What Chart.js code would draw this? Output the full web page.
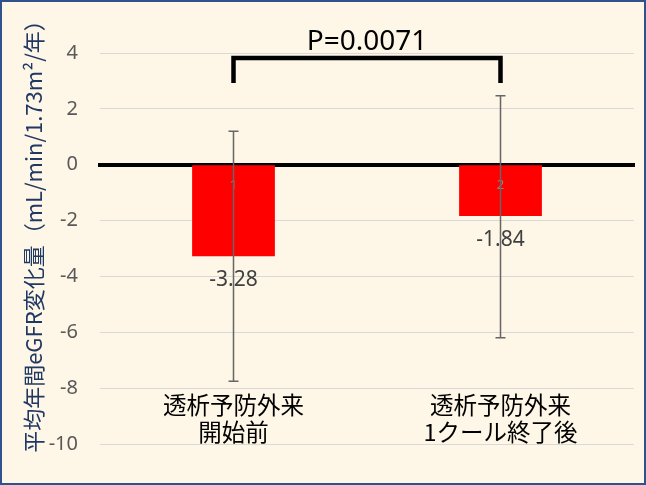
<!DOCTYPE html>
<html>
<head>
<meta charset="utf-8">
<script src="https://cdn.jsdelivr.net/npm/chart.js@4"></script>
<style>
    html, body { margin: 0; padding: 0; background: #fff; }
    #wrap {
        width: 646px; height: 485px; box-sizing: border-box;
        border: 2px solid #2F528F; background: #FEF6E6;
    }
    #chart { display: block; }
</style>
</head>
<body>
<div id="wrap"><canvas id="chart" width="642" height="481"></canvas></div>
<script>
const axisLabels = ['1', '2'];
const groupNames = [['透析予防外来', '開始前'], ['透析予防外来', '1クール終了後']];
const meanChange = [-3.28, -1.84];
const errLow = [-7.75, -6.2];
const errHigh = [1.2, 2.47];
const yTitle = '平均年間eGFR変化量（mL/min/1.73m²/年）';
const pText = 'P=0.0071';
const bracketTop = 3.82;
const bracketBottom = 2.93;

const JP = '"Noto Sans CJK JP", "Noto Sans", sans-serif';

const extrasPlugin = {
    id: 'extras',
    afterDatasetsDraw(chart) {
        const ctx = chart.ctx;
        const y = chart.scales.y;
        const meta = chart.getDatasetMeta(0);
        const y0 = y.getPixelForValue(0);
        ctx.save();

        // axis labels 1, 2 sitting just under the zero line
        ctx.fillStyle = '#8a8a8a';
        ctx.font = '13px "Noto Sans", sans-serif';
        ctx.textAlign = 'center';
        ctx.textBaseline = 'middle';
        meta.data.forEach((bar, i) => {
            ctx.fillText(axisLabels[i], bar.x, y0 + 21);
        });

        // error bars
        ctx.strokeStyle = '#666666';
        ctx.lineWidth = 1.5;
        meta.data.forEach((bar, i) => {
            const cx = bar.x;
            const yt = y.getPixelForValue(errHigh[i]);
            const yb = y.getPixelForValue(errLow[i]);
            ctx.beginPath();
            ctx.moveTo(cx, yt); ctx.lineTo(cx, yb);
            ctx.moveTo(cx - 5, yt); ctx.lineTo(cx + 5, yt);
            ctx.moveTo(cx - 5, yb); ctx.lineTo(cx + 5, yb);
            ctx.stroke();
        });

        // value labels under bars
        ctx.fillStyle = '#404040';
        ctx.font = '21px "Noto Sans", sans-serif';
        meta.data.forEach((bar, i) => {
            ctx.fillText(meanChange[i].toFixed(2), bar.x, bar.y + 24);
        });
        ctx.restore();
    },
    afterDraw(chart) {
        const ctx = chart.ctx;
        const x = chart.scales.x;
        const y = chart.scales.y;
        ctx.save();

        // significance bracket
        const x1 = x.getPixelForValue(0);
        const x2 = x.getPixelForValue(1);
        const yt = y.getPixelForValue(bracketTop);
        const yb = y.getPixelForValue(bracketBottom);
        ctx.strokeStyle = '#000';
        ctx.lineWidth = 4.5;
        ctx.beginPath();
        ctx.moveTo(x1, yb); ctx.lineTo(x1, yt); ctx.lineTo(x2, yt); ctx.lineTo(x2, yb);
        ctx.stroke();

        ctx.fillStyle = '#000';
        ctx.font = '28px "Noto Sans", sans-serif';
        ctx.textAlign = 'center';
        ctx.textBaseline = 'alphabetic';
        ctx.fillText(pText, (x1 + x2) / 2, yt - 8);

        // group names near the bottom
        ctx.font = '23.5px ' + JP;
        ctx.textBaseline = 'middle';
        groupNames.forEach((lines, i) => {
            const cx = x.getPixelForValue(i);
            lines.forEach((t, k) => ctx.fillText(t, cx, 403 + k * 27));
        });

        // y axis title
        ctx.translate(32, 229);
        ctx.rotate(-Math.PI / 2);
        ctx.fillStyle = '#203864';
        ctx.font = '22px ' + JP;
        ctx.fillText(yTitle, 0, 0);
        ctx.restore();
    }
};

new Chart(document.getElementById('chart').getContext('2d'), {
    type: 'bar',
    data: {
        labels: axisLabels,
        datasets: [{
            data: meanChange,
            backgroundColor: '#FF0000',
            borderWidth: 0,
            barPercentage: 1,
            categoryPercentage: 0.31
        }]
    },
    options: {
        responsive: false,
        animation: false,
        events: [],
        layout: { padding: { top: 51, right: 10, bottom: 39, left: 0 } },
        plugins: { legend: { display: false }, tooltip: { enabled: false } },
        scales: {
            x: {
                position: { y: 0 },
                z: 1,
                grid: { display: false, drawTicks: false },
                border: { color: '#000', width: 4 },
                ticks: { display: false }
            },
            y: {
                min: -10,
                max: 4,
                afterFit(scale) { scale.width = 98; },
                grid: { color: '#D9D9D9', lineWidth: 1, drawTicks: false },
                border: { display: false },
                ticks: {
                    stepSize: 2,
                    padding: 22,
                    color: '#595959',
                    font: { size: 20, family: '"Noto Sans", sans-serif' }
                }
            }
        }
    },
    plugins: [extrasPlugin]
});
</script>
</body>
</html>
